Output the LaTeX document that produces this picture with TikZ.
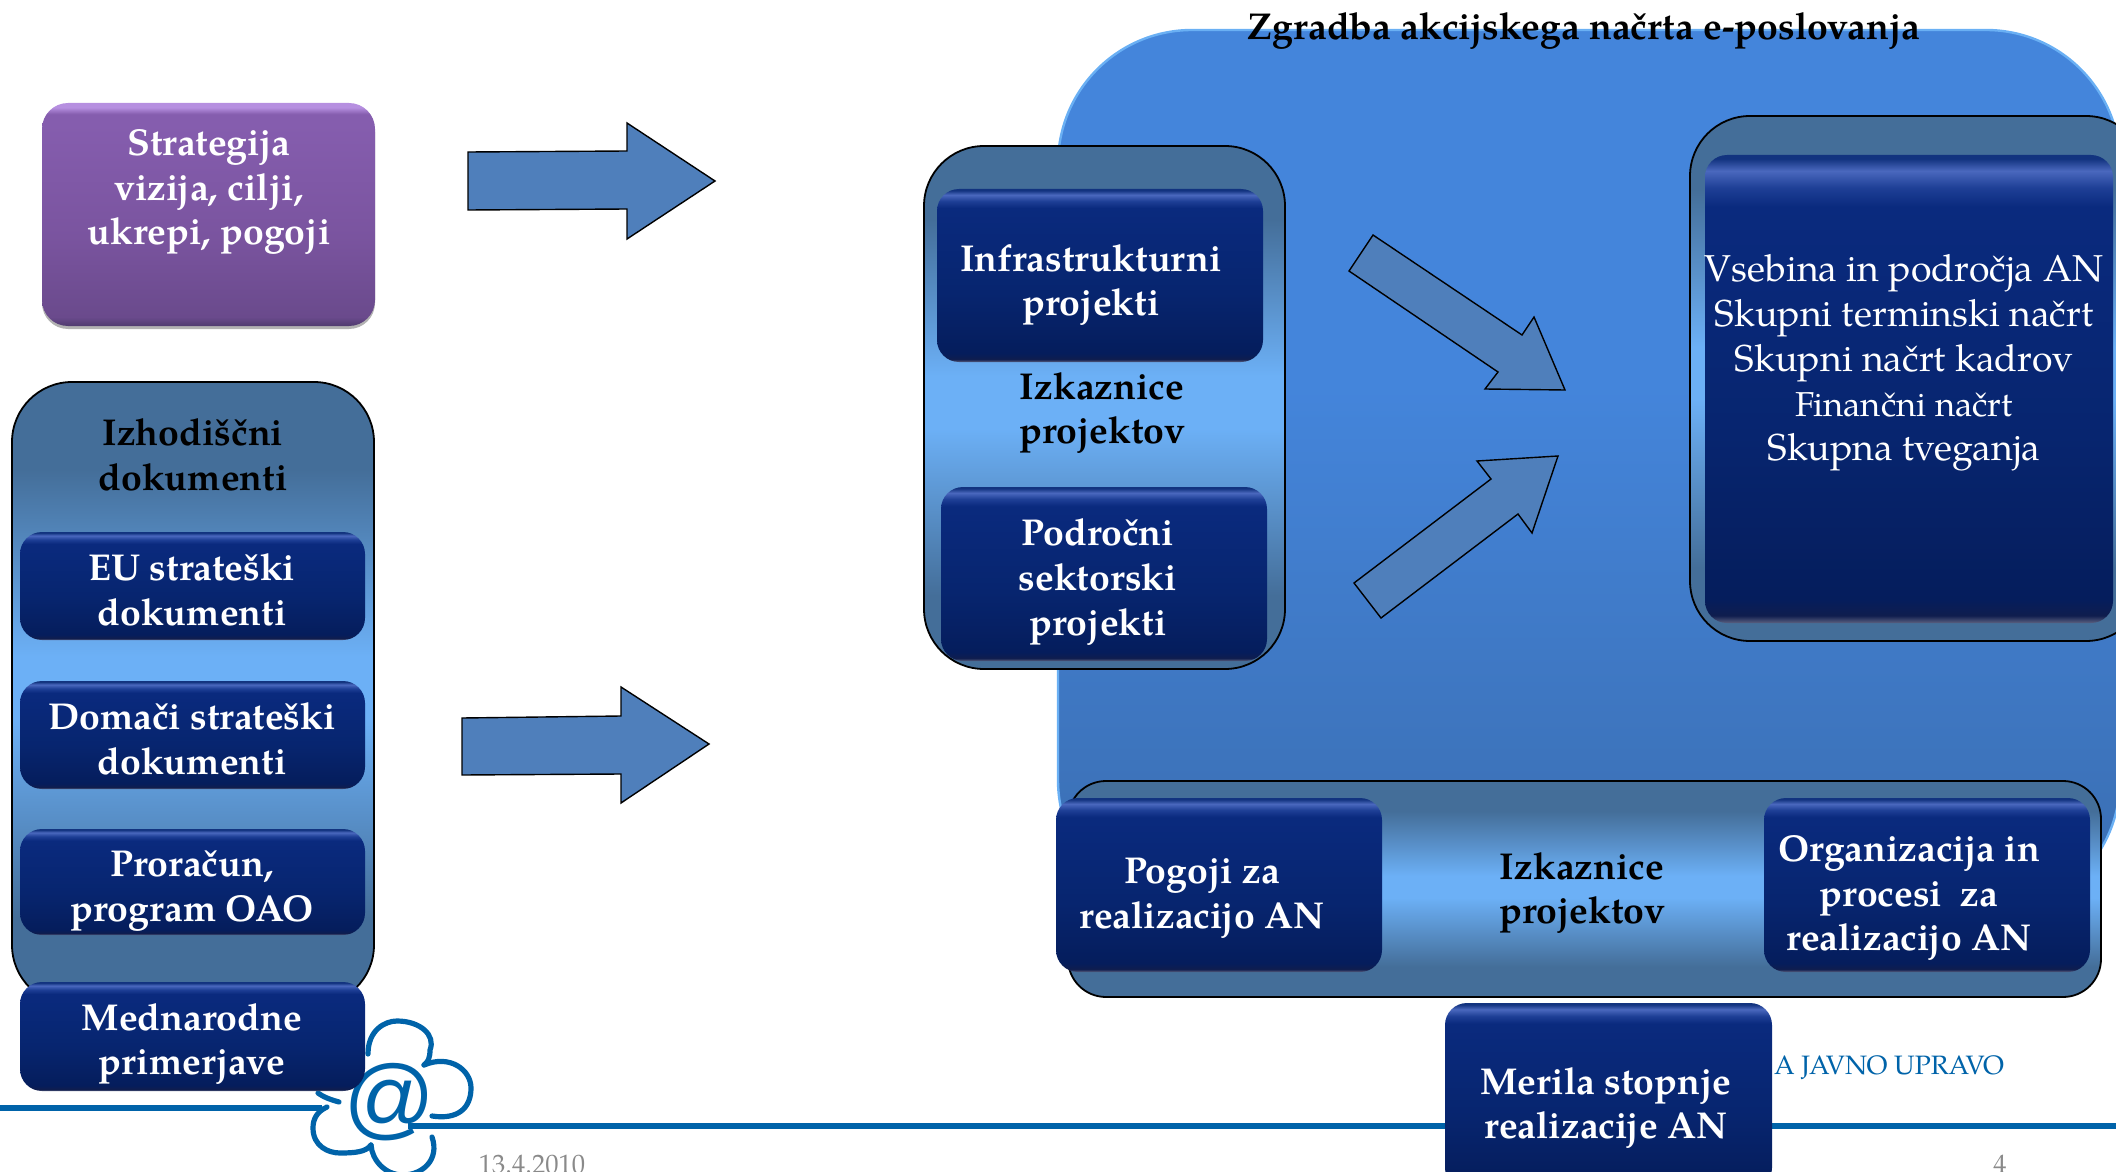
\documentclass[tikz,border=0pt]{standalone}
\usepackage{fontspec}
\setmainfont{TeX Gyre Pagella}
\newfontfamily\logofont{Liberation Sans}
\usetikzlibrary{shadows}
\definecolor{nv0}{HTML}{4A68BE}\definecolor{nv1}{HTML}{1E3F96}\definecolor{nv2}{HTML}{0A2A7E}
\definecolor{nv3}{HTML}{07256F}\definecolor{nv4}{HTML}{051D5C}\definecolor{nv5}{HTML}{0F1D4E}
\definecolor{nv6}{HTML}{5A6080}\definecolor{nv7}{HTML}{12337F}
\definecolor{pp1}{HTML}{B68FE0}\definecolor{pp2}{HTML}{855DAE}\definecolor{pp3}{HTML}{7A549F}\definecolor{pp4}{HTML}{6A4A8C}\definecolor{pp5}{HTML}{4F3A6E}
\definecolor{pa}{HTML}{446E99}\definecolor{pb}{HTML}{6CB0F6}
\definecolor{bg0}{HTML}{6AB0F4}\definecolor{bg1}{HTML}{4485DB}\definecolor{bg2}{HTML}{3A6DB0}
\definecolor{arrowfill}{HTML}{4F7FBB}\definecolor{logoblue}{HTML}{0063A9}\definecolor{datagray}{HTML}{8A8A8A}
\pgfdeclareverticalshading{navyshade}{100bp}{color(0bp)=(nv6);color(25bp)=(nv6);color(25.8bp)=(nv5);color(27.5bp)=(nv4);color(45bp)=(nv3);color(69.5bp)=(nv2);color(71.5bp)=(nv1);color(73.3bp)=(nv0);color(74.6bp)=(nv7);color(100bp)=(nv7)}
\pgfdeclareverticalshading{purpleshade}{100bp}{color(0bp)=(pp5);color(25bp)=(pp5);color(27bp)=(pp4);color(45bp)=(pp3);color(70bp)=(pp2);color(72.5bp)=(pp2);color(74bp)=(pp1);color(75bp)=(pp1);color(100bp)=(pp1)}
\pgfdeclareverticalshading{panelshade}{100bp}{color(0bp)=(pa);color(25bp)=(pa);color(32bp)=(pa);color(48bp)=(pb);color(53bp)=(pb);color(68bp)=(pa);color(75bp)=(pa);color(100bp)=(pa)}
\pgfdeclareverticalshading{bigshade}{100bp}{color(0bp)=(bg2);color(25bp)=(bg2);color(55bp)=(bg1);color(100bp)=(bg1)}
\tikzset{
  x=0.5pt,y=-0.5pt,
  txt/.style={font=\fontsize{18.7}{22.4}\selectfont\bfseries,align=center,inner sep=0pt},
  navy/.style={shading=navyshade,rounded corners=11pt,inner sep=0pt,anchor=center},
  purple/.style={shading=purpleshade,rounded corners=13pt,inner sep=0pt,anchor=center,drop shadow={shadow xshift=0pt,shadow yshift=-1.5pt,fill=black,opacity=.3}},
  panel/.style={shading=panelshade,draw=black,line width=0.9pt,rounded corners=30pt,inner sep=0pt,anchor=center},
  wtxt/.style={txt,text=white},
  label/.style={txt,text=black},
  blockarrow/.style={fill=arrowfill,draw=black,line width=0.7pt,line join=miter},
  logoline/.style={draw=logoblue,line width=2.6pt,line cap=round},
  foot/.style={inner sep=0pt,anchor=base,font=\fontsize{13.3}{15}\selectfont},
}
\newcommand{\bx}[6][navy]{%
  \node[#1,minimum width=#5*0.5pt-#3*0.5pt,minimum height=#6*0.5pt-#4*0.5pt] (#2) at ({(#3+#5)/2},{(#4+#6)/2}) {};}
\newcommand{\px}[6][panel]{%
  \node[#1,minimum width=#5*0.5pt-#3*0.5pt,minimum height=#6*0.5pt-#4*0.5pt] (#2) at ({(#3+#5)/2},{(#4+#6)/2}) {};}
\begin{document}
\begin{tikzpicture}
\path[use as bounding box] (0,0) rectangle (2116,1172);
\begin{scope}
\clip (0,0) rectangle (2116,1172);
% big panel
\node[shading=bigshade,draw=bg0,line width=1.2pt,rounded corners=67pt,minimum width=531pt,minimum height=442pt,inner sep=0pt] (big) at (1589,472) {};
% bottom rule
\draw[draw=logoblue,line width=2.6pt] (0,1108) -- (322,1108);
\draw[draw=logoblue,line width=2.6pt] (408,1126) -- (2116,1126);
% logo
\node[inner sep=0pt,font=\logofont\itshape\fontsize{45}{45}\selectfont,text=logoblue] (atsign) at (388,1102) {@};
\draw[logoline] (368,1054) .. controls (368,1030) and (385,1021) .. (397,1021) .. controls (420,1021) and (436,1035) .. (430,1050) .. controls (430,1058) and (428,1062) .. (424,1065);
\draw[logoline] (424,1065) .. controls (450,1054) and (471,1070) .. (471,1088) .. controls (471,1108) and (458,1120) .. (432,1116);
\draw[logoline] (318,1093) .. controls (325,1098) and (332,1100) .. (339,1102);
\draw[logoline] (327,1107) .. controls (316,1112) and (313,1120) .. (313,1128) .. controls (313,1146) and (328,1153) .. (340,1153) .. controls (355,1153) and (366,1152) .. (371,1145);
\draw[logoline] (371,1145) .. controls (372,1160) and (385,1175) .. (403,1175) .. controls (422,1175) and (440,1160) .. (432,1137);
% footer text
\node[foot,text=logoblue] (upr) at (1889,1074) {A JAVNO UPRAVO};
\node[foot,text=datagray] (dat) at (532,1173) {13.4.2010};
\node[foot,text=datagray] (pg) at (2000,1173) {4};
% purple
\bx[purple]{strat}{42}{103}{375}{326}
\node[wtxt] (strattxt) at (209,192) {Strategija\\vizija, cilji,\\ukrepi, pogoji};
% left panel
\px{left}{12}{382}{374}{1005}
\node[label] (lefttxt) at (193,455) {Izhodiščni\\dokumenti};
\bx{eu}{20}{532}{365}{640}
\node[wtxt] (eutxt) at (192,590) {EU strateški\\dokumenti};
\bx{dom}{20}{681}{365}{789}
\node[wtxt] (domtxt) at (192,739) {Domači strateški\\dokumenti};
\bx{pror}{20}{829}{365}{935}
\node[wtxt] (prortxt) at (192,891) {Proračun,\\program OAO};
\bx{medn}{20}{982}{365}{1091}
\node[wtxt] (medntxt) at (192,1044) {Mednarodne\\primerjave};
% block arrows
\draw[blockarrow] (468,152) -- (627,151) -- (627,123) -- (715,181) -- (627,239) -- (627,209) -- (468,210) -- cycle;
\draw[blockarrow] (462,718) -- (621,716) -- (621,687) -- (709,744) -- (621,803) -- (621,774) -- (462,775) -- cycle;
% central panel
\px{cent}{924}{146}{1285}{669}
\bx{infra}{937}{189}{1263}{362}
\node[wtxt] (infratxt) at (1091,285) {Infrastrukturni\\projekti};
\node[label] (izk1) at (1102,413) {Izkaznice\\ projektov};
\bx{podr}{941}{487}{1267}{661}
\node[wtxt] (podrtxt) at (1098,582) {Področni\\sektorski\\projekti};
\draw[blockarrow] (1373,235) -- (1349,271) -- (1498,372) -- (1485,389) -- (1565,390) -- (1534,317) -- (1522,335) -- cycle;
\draw[blockarrow] (1354,583) -- (1381,618) -- (1518,514) -- (1532,533) -- (1558,456) -- (1477,461) -- (1491,479) -- cycle;
% right panel
\px{rightp}{1690}{116}{2146}{641}
\bx{cont}{1705}{155}{2113}{623}
\node[txt,text=white,font=\fontsize{18.7}{22.4}\selectfont] (conttxt) at (1904,363) {Vsebina in področja AN\\Skupni terminski načrt\\ Skupni načrt kadrov\\{\fontsize{17.3}{22.4}\selectfont Finančni načrt}\\Skupna tveganja};
% lower panel
\px[panel,rounded corners=19pt]{low}{1068}{781}{2101}{997}
\node[label] (izk2) at (1582,893) {Izkaznice\\ projektov};
\bx{pog}{1056}{798}{1382}{972}
\node[wtxt] (pogtxt) at (1202,898) {Pogoji za\\ realizacijo AN};
\bx{org}{1764}{798}{2090}{972}
\node[wtxt] (orgtxt) at (1909,898) {Organizacija in\\procesi~ za\\realizacijo AN};
\bx{mer}{1445}{1003}{1772}{1190}
\node[wtxt] (mertxt) at (1606,1108) {Merila stopnje\\realizacije AN};
% title
\node[label,anchor=base] (title) at (1584,40) {Zgradba akcijskega načrta e-poslovanja};
\end{scope}
\end{tikzpicture}
\end{document}
